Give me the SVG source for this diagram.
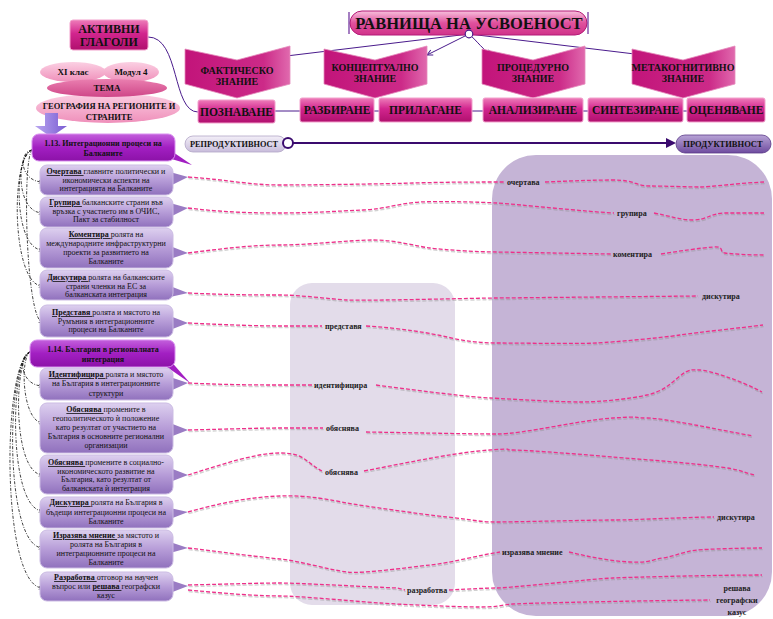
<svg xmlns="http://www.w3.org/2000/svg" xmlns:xlink="http://www.w3.org/1999/xlink" width="773" height="619" viewBox="0 0 773 619">
<defs>
<linearGradient id="gMag" x1="0" y1="0" x2="0" y2="1"><stop offset="0" stop-color="#ee7cb9"/><stop offset="0.45" stop-color="#d2258e"/><stop offset="1" stop-color="#b0106e"/></linearGradient>
<linearGradient id="gChev" x1="0" y1="0" x2="1" y2="0"><stop offset="0" stop-color="#c2147a"/><stop offset="0.75" stop-color="#cc2a88"/><stop offset="1" stop-color="#e06aae"/></linearGradient>
<linearGradient id="gBan" x1="0" y1="0" x2="0" y2="1"><stop offset="0" stop-color="#f7c0dc"/><stop offset="0.5" stop-color="#e0509d"/><stop offset="1" stop-color="#d0328a"/></linearGradient>
<linearGradient id="gHead" x1="0" y1="0" x2="0" y2="1"><stop offset="0" stop-color="#c35fdc"/><stop offset="0.5" stop-color="#a21fc2"/><stop offset="1" stop-color="#8c12a8"/></linearGradient>
<linearGradient id="gItem" x1="0" y1="0" x2="0" y2="1"><stop offset="0" stop-color="#ddd0ef"/><stop offset="0.5" stop-color="#b79dd8"/><stop offset="1" stop-color="#9071bd"/></linearGradient>
<linearGradient id="gRep" x1="0" y1="0" x2="0" y2="1"><stop offset="0" stop-color="#f3eff8"/><stop offset="1" stop-color="#c8bcdb"/></linearGradient>
<linearGradient id="gProd" x1="0" y1="0" x2="0" y2="1"><stop offset="0" stop-color="#b8a4d6"/><stop offset="1" stop-color="#6e4b9f"/></linearGradient>
<linearGradient id="gPinkE" x1="0" y1="0" x2="0" y2="1"><stop offset="0" stop-color="#fbd0e3"/><stop offset="1" stop-color="#ef8fba"/></linearGradient>
<linearGradient id="gTema" x1="0" y1="0" x2="0" y2="1"><stop offset="0" stop-color="#ea7fb0"/><stop offset="1" stop-color="#cf4688"/></linearGradient>
<linearGradient id="gArr" x1="0" y1="0" x2="1" y2="0"><stop offset="0" stop-color="#b9a6f0"/><stop offset="1" stop-color="#7a5cd2"/></linearGradient>
<marker id="mOpen" viewBox="0 0 10 10" refX="9" refY="5" markerWidth="7" markerHeight="7" orient="auto"><path d="M1,1 L9,5 L1,9" fill="none" stroke="#4a1b8c" stroke-width="1.5"/></marker>
<marker id="mBlk" viewBox="0 0 10 10" refX="9" refY="5" markerWidth="5" markerHeight="5" orient="auto"><path d="M1,1 L9,5 L1,9" fill="none" stroke="#000" stroke-width="1.5"/></marker>
<style>
.t{font-family:"Liberation Serif","Times New Roman",serif;fill:#111;text-anchor:middle}
.it{font-size:8px}
.bu{font-weight:bold;text-decoration:underline}
.hd{font-size:8px;font-weight:bold}
.lb{font-family:"Liberation Serif",serif;font-size:8px;font-weight:bold;fill:#222}
.ibox{fill:url(#gItem);stroke:#cbbbe3;stroke-width:1}
.hbox{fill:url(#gHead);stroke:#d98ff0;stroke-width:1}
.mag{fill:url(#gMag);stroke:#f2a0cc;stroke-width:1}
.chev{fill:url(#gChev);stroke:#e58abb;stroke-width:0.8}
.lvl{font-size:11.5px;font-weight:bold}
.cv{font-size:10px;font-weight:bold}
.pc{fill:none;stroke:#4a1b8c;stroke-width:1}
.bk{fill:none;stroke:#111;stroke-width:0.8;stroke-dasharray:3 1.5 1 1.5}
</style>
<g id="pinkpaths" fill="none">
<path d="M188,177 C230,180 250,185 280,185 S380,184 413,183 S480,182 505,182"/>
<path d="M545,182 C570,181 590,180 613,180 S635,186 650,186 S690,187 700,187 S740,183 764,182"/>
<path d="M188,208 C220,212 250,213 280,213 S340,211 363,210 S400,203 420,202 S480,202 497,203 S590,212 614,213"/>
<path d="M654,213 C670,216 680,220 693,220 S710,214 723,213 L764,213"/>
<path d="M188,253 C220,249 250,245 280,245 S350,240 373,240 S415,246 430,248 S480,252 497,252 L611,254"/>
<path d="M661,254 C680,251 700,248 713,247 S718,252 725,253 S750,255 764,255"/>
<path d="M188,293 C230,295 260,295 280,295 S330,299 347,300 S480,298 497,298 L698,296"/>
<path d="M188,323 C230,325 260,326 280,326 L322,326"/>
<path d="M366,326 C400,328 430,333 447,337 S480,343 497,343 S580,344 597,343 S660,338 680,335 S740,328 763,325"/>
<path d="M188,383 C230,385 260,385 280,385 L312,385"/>
<path d="M376,385 C430,392 470,397 490,398 S560,402 580,402 S630,399 647,395 S670,384 680,376 S692,370 700,370 S740,380 762,392"/>
<path d="M188,430 C230,429 260,428 280,428 L323,428"/>
<path d="M366,432 C430,433 470,434 497,434 S580,420 613,418 S630,418 647,418 S720,430 753,436"/>
<path d="M188,475 C220,465 255,453 280,453 S305,462 322,471"/>
<path d="M364,471 C420,460 460,452 490,450 S500,450 513,450 S590,455 613,457 S680,462 713,466 S740,472 755,475"/>
<path d="M188,512 C220,503 250,497 280,496 S330,500 347,503 S420,514 447,517 S480,522 497,522 S590,520 613,520 S690,517 714,517"/>
<path d="M188,548 C230,553 260,557 280,559 S330,570 347,572 S410,567 430,565 S480,555 500,552"/>
<path d="M569,552 C590,557 610,561 630,562 S650,560 663,558 S685,551 697,550 S740,548 762,548"/>
<path d="M188,585 C230,584 260,583 280,583 S370,587 397,588 L405,590"/>
<path d="M449,590 C470,589 485,588 497,588 S590,579 613,578 S720,575 762,575"/>
<path d="M188,590 C230,594 260,596 280,596 S350,601 380,603 S460,607 480,607 S500,605 513,604 S680,600 710,600"/>
</g>
</defs>

<g id="regions">
<rect x="492" y="155" width="280" height="461" rx="44" fill="#c5b4d6"/>
<rect x="290" y="283" width="165" height="322" rx="22" fill="#e3dcea"/>
</g>

<g id="top-connectors">
<path class="pc" d="M148,37 C180,37 172,112 198,112"/>
<path class="pc" d="M275,111 L300,111 M374,111 L379,111 M472,111 L483,111 M583,111 L588,111 M683,111 L687,111"/>
<path class="pc" marker-end="url(#mOpen)" d="M469,34 L278,57"/>
<path class="pc" marker-end="url(#mOpen)" d="M469,34 L427,55"/>
<path class="pc" marker-end="url(#mOpen)" d="M469,34 C478,42 483,50 492,55"/>
<path class="pc" marker-end="url(#mOpen)" d="M469,34 L643,55"/>
</g>

<g id="banner">
<rect x="350" y="11" width="237" height="24" rx="12" fill="url(#gBan)" stroke="#b41a78" stroke-width="1"/>
<path d="M349,12 L349,34 M588,12 L588,34" stroke="#6a2a9a" stroke-width="1.2"/>
<text class="t" x="469" y="29" font-size="16.5" font-weight="bold">РАВНИЩА НА УСВОЕНОСТ</text>
<circle cx="469" cy="34" r="3.8" fill="#fff" stroke="#4a1b8c" stroke-width="1.2"/>
</g>

<g id="activni">
<rect class="mag" x="70" y="20" width="78" height="30" rx="3"/>
<text class="t" x="109" y="33" font-size="12" font-weight="bold">АКТИВНИ</text>
<text class="t" x="109" y="46" font-size="12" font-weight="bold">ГЛАГОЛИ</text>
</g>

<g id="tema">
<ellipse cx="73" cy="72" rx="33" ry="10" fill="url(#gPinkE)"/>
<ellipse cx="131" cy="72" rx="28" ry="10" fill="url(#gPinkE)"/>
<ellipse cx="108" cy="108" rx="72" ry="15" fill="url(#gPinkE)"/>
<ellipse cx="107" cy="88" rx="60" ry="9" fill="url(#gTema)"/>
<text class="t" x="73" y="75" font-size="9" font-weight="bold">XI клас</text>
<text class="t" x="131" y="75" font-size="9" font-weight="bold">Модул 4</text>
<text class="t" x="107" y="91" font-size="9" font-weight="bold">ТЕМА</text>
<text class="t" x="109" y="109" font-size="8.5" font-weight="bold">ГЕОГРАФИЯ НА РЕГИОНИТЕ И</text>
<text class="t" x="109" y="120" font-size="8.5" font-weight="bold">СТРАНИТЕ</text>
<path d="M45,113 L58,113 L58,126 L67,126 L51,137 L35,126 L45,126 Z" fill="url(#gArr)"/>
</g>

<g id="chev-fakt">
<path class="chev" d="M185,49 L237,60 L290,46 L290,84 L237,98 L185,84 Z"/>
<text class="t cv" x="237" y="74">ФАКТИЧЕСКО</text>
<text class="t cv" x="237" y="85">ЗНАНИЕ</text>
</g>
<g id="chev-konc">
<path class="chev" d="M324,49 L375,60 L427,46 L427,84 L375,98 L324,84 Z"/>
<text class="t cv" x="375" y="71">КОНЦЕПТУАЛНО</text>
<text class="t cv" x="375" y="82">ЗНАНИЕ</text>
</g>
<g id="chev-proc">
<path class="chev" d="M482,49 L533,60 L585,46 L585,84 L533,98 L482,84 Z"/>
<text class="t cv" x="533" y="71">ПРОЦЕДУРНО</text>
<text class="t cv" x="533" y="82">ЗНАНИЕ</text>
</g>
<g id="chev-meta">
<path class="chev" d="M632,49 L683,60 L735,46 L735,84 L683,98 L632,84 Z"/>
<text class="t cv" x="683" y="71">МЕТАКОГНИТИВНО</text>
<text class="t cv" x="683" y="82">ЗНАНИЕ</text>
</g>

<g id="lvl-poznavane"><rect class="mag" x="198" y="100" width="77" height="23" rx="2"/><text class="t lvl" x="236.5" y="116">ПОЗНАВАНЕ</text></g>
<g id="lvl-razbirane"><rect class="mag" x="300" y="98" width="74" height="24" rx="2"/><text class="t lvl" x="337" y="114">РАЗБИРАНЕ</text></g>
<g id="lvl-prilagane"><rect class="mag" x="379" y="98" width="93" height="24" rx="2"/><text class="t lvl" x="425.5" y="114">ПРИЛАГАНЕ</text></g>
<g id="lvl-analizirane"><rect class="mag" x="483" y="98" width="100" height="24" rx="2"/><text class="t lvl" x="533" y="114">АНАЛИЗИРАНЕ</text></g>
<g id="lvl-sintezirane"><rect class="mag" x="588" y="98" width="95" height="24" rx="2"/><text class="t lvl" x="635.5" y="114">СИНТЕЗИРАНЕ</text></g>
<g id="lvl-ocenqvane"><rect class="mag" x="687" y="98" width="78" height="24" rx="2"/><text class="t lvl" x="726" y="114">ОЦЕНЯВАНЕ</text></g>

<g id="scale">
<rect x="185" y="136" width="101" height="16" rx="8" fill="url(#gRep)" stroke="#b3a6c6" stroke-width="0.8"/>
<text class="t" x="234" y="147" font-size="8.3" font-weight="bold">РЕПРОДУКТИВНОСТ</text>
<path d="M293,143 L668,143" stroke="#3a0b6e" stroke-width="2"/>
<path d="M666,138 L676,143 L666,148 Z" fill="#3a0b6e"/>
<circle cx="288" cy="143" r="5" fill="#fff" stroke="#3a0b6e" stroke-width="2"/>
<rect x="676" y="135" width="95" height="18" rx="9" fill="url(#gProd)" stroke="#5a3a88" stroke-width="0.8"/>
<text class="t" x="723" y="147" font-size="8.5" font-weight="bold">ПРОДУКТИВНОСТ</text>
</g>

<g id="connectors">
<use href="#pinkpaths" stroke="#8d8d8d" stroke-opacity="0.4" stroke-width="1.4" stroke-dasharray="4 2" transform="translate(0.6,1.6)"/>
<use href="#pinkpaths" stroke="#ee2f8a" stroke-width="1.3" stroke-dasharray="4 2"/>
<text class="lb" x="507" y="185">очертава</text>
<text class="lb" x="617" y="216">групира</text>
<text class="lb" x="613" y="257">коментира</text>
<text class="lb" x="702" y="299">дискутира</text>
<text class="lb" x="325" y="329">представя</text>
<text class="lb" x="314" y="388">идентифицира</text>
<text class="lb" x="326" y="431">обяснява</text>
<text class="lb" x="325" y="475">обяснява</text>
<text class="lb" x="717" y="520">дискутира</text>
<text class="lb" x="502" y="555">изразява мнение</text>
<text class="lb" x="407" y="593">разработва</text>
<text class="lb" x="737" y="591" text-anchor="middle">решава</text>
<text class="lb" x="737" y="603" text-anchor="middle">географски</text>
<text class="lb" x="737" y="615" text-anchor="middle">казус</text>
<path class="bk" marker-end="url(#mBlk)" d="M32,150 C18,152 20,181 42,182"/>
<path class="bk" marker-end="url(#mBlk)" d="M32,150 C16,154 16,212 42,213"/>
<path class="bk" marker-end="url(#mBlk)" d="M32,150 C13,156 14,249 42,250"/>
<path class="bk" marker-end="url(#mBlk)" d="M32,150 C10,158 12,285 42,286"/>
<path class="bk" marker-end="url(#mBlk)" d="M32,150 C22,160 26,318 42,322"/>
<path class="bk" marker-end="url(#mBlk)" d="M30,352 C18,355 20,385 42,386"/>
<path class="bk" marker-end="url(#mBlk)" d="M30,352 C20,358 22,420 42,423"/>
<path class="bk" marker-end="url(#mBlk)" d="M30,352 C14,358 12,472 42,475"/>
<path class="bk" marker-end="url(#mBlk)" d="M30,352 C10,360 8,508 42,511"/>
<path class="bk" marker-end="url(#mBlk)" d="M30,352 C6,362 4,545 42,548"/>
<path class="bk" marker-end="url(#mBlk)" d="M30,352 C2,364 1,585 42,588"/>
</g>

<g id="h113">
<path d="M170,150 L192,165 L168,158 Z" fill="#a21fc2"/>
<rect class="hbox" x="32" y="134" width="143" height="27" rx="7"/>
<text class="t hd" x="103" y="146">1.13. Интеграционни процеси на</text>
<text class="t hd" x="103" y="156">Балканите</text>
</g>

<g id="n-ochertava">
<path d="M170,172 L188,177 L170,186 Z" fill="#9a7cc4"/>
<rect class="ibox" x="40" y="165" width="133" height="30" rx="7"/>
<text class="t it" x="106" y="174"><tspan class="bu">Очертава </tspan>главните политически и</text>
<text class="t it" x="106" y="182.5">икономически аспекти на</text>
<text class="t it" x="106" y="191">интеграцията на Балканите</text>
</g>
<g id="n-grupira">
<path d="M170,203 L188,208 L170,217 Z" fill="#9a7cc4"/>
<rect class="ibox" x="40" y="197" width="133" height="30" rx="7"/>
<text class="t it" x="106" y="205"><tspan class="bu">Групира </tspan>балканските страни във</text>
<text class="t it" x="106" y="213.5">връзка с участието им в ОЧИС,</text>
<text class="t it" x="106" y="222">Пакт за стабилност</text>
</g>
<g id="n-komentira">
<path d="M170,246 L188,253 L170,259 Z" fill="#9a7cc4"/>
<rect class="ibox" x="40" y="228" width="133" height="40" rx="7"/>
<text class="t it" x="106" y="237"><tspan class="bu">Коментира </tspan>ролята на</text>
<text class="t it" x="106" y="246">международните инфраструктурни</text>
<text class="t it" x="106" y="255">проекти за развитието на</text>
<text class="t it" x="106" y="264">Балканите</text>
</g>
<g id="n-diskutira1">
<path d="M170,286 L188,293 L170,297 Z" fill="#9a7cc4"/>
<rect class="ibox" x="40" y="270" width="133" height="30" rx="7"/>
<text class="t it" x="106" y="280"><tspan class="bu">Дискутира </tspan>ролята на балканските</text>
<text class="t it" x="106" y="289">страни членки на ЕС за</text>
<text class="t it" x="106" y="297">балканската интеграция</text>
</g>
<g id="n-predstavq">
<path d="M170,316 L188,323 L170,330 Z" fill="#9a7cc4"/>
<rect class="ibox" x="40" y="305" width="133" height="32" rx="7"/>
<text class="t it" x="106" y="315"><tspan class="bu">Представя </tspan>ролята и мястото на</text>
<text class="t it" x="106" y="324">Румъния в интеграционните</text>
<text class="t it" x="106" y="332">процеси на Балканите</text>
</g>

<g id="h114">
<path d="M168,358 L190,383 L164,365 Z" fill="#a21fc2"/>
<rect class="hbox" x="30" y="340" width="145" height="27" rx="7"/>
<text class="t hd" x="103" y="352">1.14. България в регионалната</text>
<text class="t hd" x="103" y="362">интеграция</text>
</g>

<g id="n-identificira">
<path d="M170,377 L188,383 L170,391 Z" fill="#9a7cc4"/>
<rect class="ibox" x="40" y="368" width="133" height="32" rx="7"/>
<text class="t it" x="106" y="377"><tspan class="bu">Идентифицира </tspan>ролята и мястото</text>
<text class="t it" x="106" y="386">на България в интеграционните</text>
<text class="t it" x="106" y="396">структури</text>
</g>
<g id="n-obqsnqva1">
<path d="M170,423 L188,430 L170,437 Z" fill="#9a7cc4"/>
<rect class="ibox" x="40" y="403" width="133" height="50" rx="7"/>
<text class="t it" x="106" y="412"><tspan class="bu">Обяснява </tspan>промените в</text>
<text class="t it" x="106" y="421">геополитическото ѝ положение</text>
<text class="t it" x="106" y="430">като резултат от участието на</text>
<text class="t it" x="106" y="439">България в основните регионални</text>
<text class="t it" x="106" y="448">организации</text>
</g>
<g id="n-obqsnqva2">
<path d="M170,468 L188,475 L170,482 Z" fill="#9a7cc4"/>
<rect class="ibox" x="40" y="455" width="133" height="39" rx="7"/>
<text class="t it" x="106" y="465"><tspan class="bu">Обяснява </tspan>промените в социално-</text>
<text class="t it" x="106" y="474">икономическото развитие на</text>
<text class="t it" x="106" y="482">България, като резултат от</text>
<text class="t it" x="106" y="491">балканската ѝ интеграция</text>
</g>
<g id="n-diskutira2">
<path d="M170,508 L188,512 L170,519 Z" fill="#9a7cc4"/>
<rect class="ibox" x="40" y="497" width="133" height="31" rx="7"/>
<text class="t it" x="106" y="505"><tspan class="bu">Дискутира </tspan>ролята на България в</text>
<text class="t it" x="106" y="515">бъдещи интеграционни процеси на</text>
<text class="t it" x="106" y="524">Балканите</text>
</g>
<g id="n-izrazqva">
<path d="M170,542 L188,548 L170,553 Z" fill="#9a7cc4"/>
<rect class="ibox" x="40" y="530" width="133" height="38" rx="7"/>
<text class="t it" x="106" y="538"><tspan class="bu">Изразява мнение </tspan>за мястото и</text>
<text class="t it" x="106" y="547">ролята на България в</text>
<text class="t it" x="106" y="556">интеграционните процеси на</text>
<text class="t it" x="106" y="565">Балканите</text>
</g>
<g id="n-razrabotva">
<path d="M170,580 L188,586 L170,593 Z" fill="#9a7cc4"/>
<rect class="ibox" x="40" y="572" width="133" height="29" rx="7"/>
<text class="t it" x="106" y="580"><tspan class="bu">Разработва </tspan>отговор на научен</text>
<text class="t it" x="106" y="589">въпрос или <tspan class="bu">решава </tspan>географски</text>
<text class="t it" x="106" y="598">казус</text>
</g>
</svg>
